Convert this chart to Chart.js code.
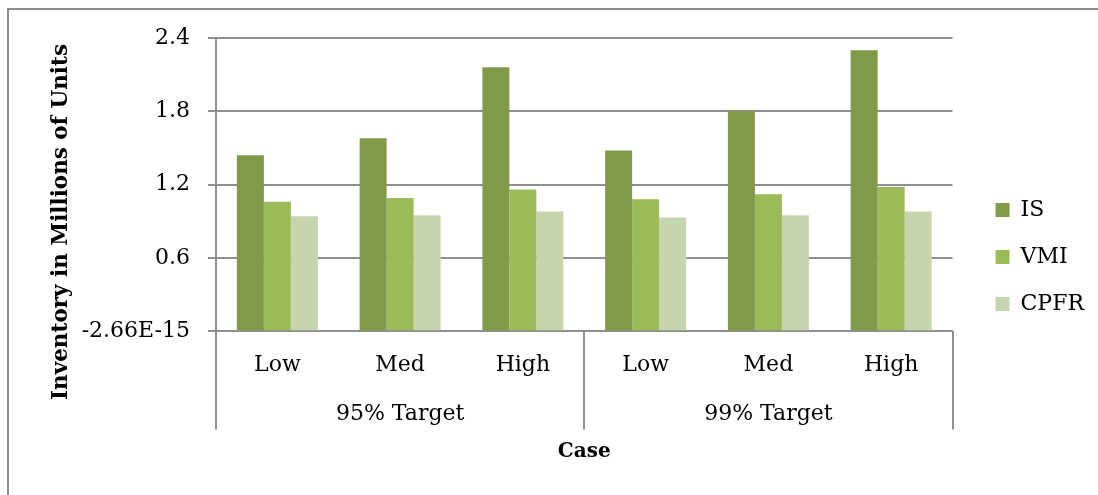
<!DOCTYPE html>
<html>
<head>
<meta charset="utf-8">
<title>Inventory by Case</title>
<script src="https://cdn.jsdelivr.net/npm/chart.js@4.4.0/dist/chart.umd.min.js"></script>
<style>
  html, body { margin: 0; padding: 0; background: #fff; }
  #wrap { position: relative; width: 1098px; height: 495px; }
  #frame {
    position: absolute; left: 7px; top: 8px; right: 0; bottom: 0;
    border-left: 2px solid #8c8c8c; border-top: 2px solid #8c8c8c;
    pointer-events: none;
  }
</style>
</head>
<body>
<div id="wrap">
  <canvas id="inventoryChart" width="1098" height="495"></canvas>
  <div id="frame"></div>
</div>
<script>
// categories and values
const caseLevels = ['Low', 'Med', 'High', 'Low', 'Med', 'High'];
const targetGroups = ['95% Target', '99% Target'];
const seriesNames = ['IS', 'VMI', 'CPFR'];
const isValues = [1.44, 1.58, 2.16, 1.48, 1.80, 2.30];
const vmiValues = [1.06, 1.09, 1.16, 1.08, 1.12, 1.18];
const cpfrValues = [0.94, 0.95, 0.98, 0.93, 0.95, 0.98];
const yTickValues = [0, 0.6, 1.2, 1.8, 2.4];
const yTickLabels = ['-2.66E-15', '0.6', '1.2', '1.8', '2.4'];
const yAxisTitle = 'Inventory in Millions of Units';
const xAxisTitle = 'Case';

const seriesColors = ['#7f9a48', '#9bbb59', '#c6d6ac'];
const gridGray = '#8f8f8f';
const serif = '"DejaVu Serif", serif';

// vertical separators under the axis: start, between the two target groups, end
const groupDividers = {
    id: 'groupDividers',
    afterDraw(chart) {
        const x = chart.scales.x;
        const grp = chart.scales.grp;
        const perGroup = caseLevels.length / targetGroups.length;
        const ctx = chart.ctx;
        const top = chart.chartArea.bottom;
        const bottom = grp.top + 30;
        ctx.save();
        ctx.strokeStyle = gridGray;
        ctx.lineWidth = 2;
        for (let g = 0; g <= targetGroups.length; g++) {
            let px;
            if (g === 0) px = x.left;
            else if (g === targetGroups.length) px = x.right;
            else px = (x.getPixelForValue(g * perGroup - 1) + x.getPixelForValue(g * perGroup)) / 2;
            px = Math.round(px);
            ctx.beginPath();
            ctx.moveTo(px, top);
            ctx.lineTo(px, bottom);
            ctx.stroke();
        }
        ctx.restore();
    }
};

// rotated y title, centred on the whole plot block like the original
const yTitle = {
    id: 'yTitle',
    afterDraw(chart) {
        const ctx = chart.ctx;
        ctx.save();
        ctx.translate(61, 222);
        ctx.rotate(-Math.PI / 2);
        ctx.font = 'bold 21.5px ' + serif;
        ctx.fillStyle = '#000';
        ctx.textAlign = 'center';
        ctx.textBaseline = 'middle';
        ctx.fillText(yAxisTitle, 0, 0);
        ctx.restore();
    }
};

const ctx = document.getElementById('inventoryChart').getContext('2d');
const inventoryChart = new Chart(ctx, {
    type: 'bar',
    data: {
        labels: caseLevels,
        datasets: [isValues, vmiValues, cpfrValues].map((values, i) => ({
            label: seriesNames[i],
            data: values,
            backgroundColor: seriesColors[i],
            borderWidth: 0,
            barPercentage: 1,
            categoryPercentage: 0.66
        }))
    },
    options: {
        responsive: false,
        animation: false,
        layout: { padding: { top: 38, bottom: 31, left: 0, right: 4 } },
        plugins: {
            tooltip: { enabled: false },
            legend: {
                position: 'right',
                align: 'center',
                // blank title only nudges the items down a little
                title: { display: true, text: ' ', font: { size: 1 }, padding: { top: 0, bottom: 11 } },
                labels: {
                    boxWidth: 14,
                    boxHeight: 14,
                    padding: 25,
                    color: '#000',
                    font: { family: serif, size: 22 }
                }
            }
        },
        scales: {
            x: {
                type: 'category',
                offset: true,
                grid: { display: false, drawTicks: false },
                border: { display: true, color: gridGray, width: 2 },
                ticks: {
                    color: '#000',
                    padding: 21,
                    maxRotation: 0,
                    autoSkip: false,
                    font: { family: serif, size: 22 }
                }
            },
            grp: {
                type: 'category',
                position: 'bottom',
                labels: targetGroups,
                offset: true,
                grid: { display: false, drawTicks: false },
                border: { display: false },
                ticks: {
                    color: '#000',
                    padding: 1,
                    maxRotation: 0,
                    font: { family: serif, size: 22 }
                },
                title: {
                    display: true,
                    text: xAxisTitle,
                    color: '#000',
                    font: { family: serif, size: 20, weight: 'bold' },
                    padding: { top: 12, bottom: 0 }
                }
            },
            y: {
                min: 0,
                max: 2.4,
                afterBuildTicks: (scale) => {
                    scale.ticks = yTickValues.map(v => ({ value: v }));
                },
                afterFit: (scale) => {
                    scale.width = 216;
                },
                grid: { color: gridGray, lineWidth: 2, tickLength: 8 },
                border: { color: gridGray, width: 2 },
                ticks: {
                    color: '#000',
                    padding: 18,
                    font: { family: serif, size: 22 },
                    callback: (value, index) => yTickLabels[index]
                }
            },
            gap: {
                type: 'linear',
                position: 'right',
                grid: { display: false, drawTicks: false },
                border: { display: false },
                ticks: { display: false },
                afterFit: (scale) => {
                    scale.width = 18;
                }
            }
        }
    },
    plugins: [groupDividers, yTitle]
});
</script>
</body>
</html>
